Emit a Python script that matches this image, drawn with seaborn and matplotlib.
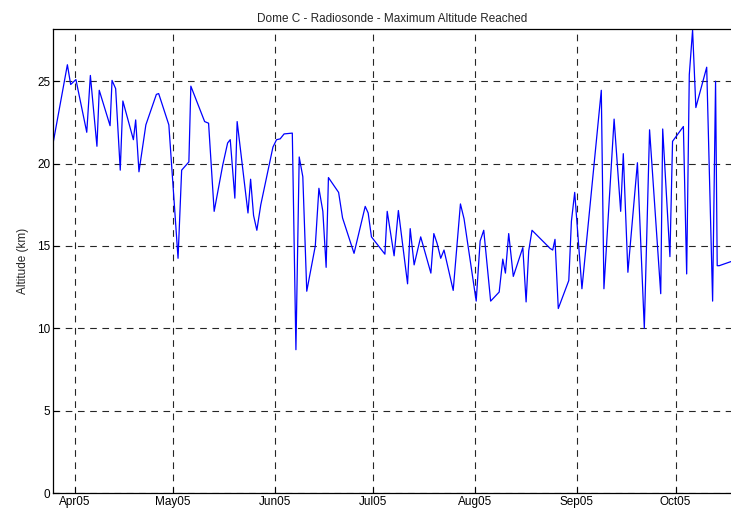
import pandas as pd
import matplotlib
matplotlib.use("Agg")
import matplotlib.pyplot as plt
import matplotlib.dates as mdates
import seaborn as sns

# Launch time in days since 1 Apr 2005
days = [-6.5, -2.2, -1.2, 0.4, 3.7, 4.8, 6.8, 7.5, 10.8, 11.4, 12.5, 13.9, 14.7,
        17.9, 18.6, 19.6, 21.7, 24.9, 25.6, 28.7, 31.5, 32.6, 34.8, 35.4, 39.6,
        40.8, 42.5, 45.1, 46.6, 47.4, 48.8, 49.5, 52.8, 53.6, 54.5, 55.5, 56.7,
        60.4, 61.5, 62.6, 63.8, 66.3, 67.4, 68.4, 69.5, 70.7, 73.3, 74.4, 75.6,
        76.6, 77.3, 80.4, 81.6, 85.1, 88.5, 89.4, 90.4, 94.5, 95.2, 97.3, 98.6,
        101.4, 102.2, 103.4, 105.4, 108.5, 109.4, 110.4, 111.5, 112.5, 115.3,
        117.5, 118.6, 122.3, 123.5, 124.6, 126.7, 129.3, 130.4, 131.2, 132.2,
        133.6, 136.5, 137.5, 138.3, 139.3, 144.8, 145.6, 146.3, 147.3, 150.5,
        151.3, 152.3, 154.5, 160.4, 161.2, 164.3, 166.3, 167.1, 168.5, 171.4,
        173.5, 175.1, 178.5, 179.1, 181.3, 182.1, 185.4, 186.4, 187.2, 188.2,
        189.2, 192.5, 194.3, 195.2, 195.7, 196.3, 199.9]

# Maximum altitude reached (km)
altitude = [21.3, 26.0, 24.8, 25.1, 21.9, 25.35, 21.05, 24.45, 22.3, 25.05, 24.55,
            19.6, 23.8, 21.45, 22.65, 19.5, 22.35, 24.2, 24.25, 22.35, 14.25, 19.6,
            20.1, 24.7, 22.55, 22.45, 17.1, 19.9, 21.25, 21.45, 17.9, 22.55, 17.0,
            19.05, 16.85, 15.95, 17.5, 21.0, 21.45, 21.5, 21.8, 21.85, 8.7, 20.4,
            19.2, 12.25, 15.0, 18.5, 17.1, 13.7, 19.15, 18.25, 16.7, 14.55, 17.4,
            17.0, 15.55, 14.5, 17.1, 14.4, 17.15, 12.7, 16.05, 13.85, 15.55, 13.35,
            15.75, 15.15, 14.25, 14.75, 12.3, 17.55, 16.65, 11.65, 15.3, 15.95,
            11.65, 12.2, 14.2, 13.35, 15.75, 13.15, 14.9, 11.6, 14.7, 15.95, 14.85,
            14.75, 15.4, 11.2, 12.9, 16.5, 18.25, 12.4, 24.45, 12.4, 22.7, 17.1,
            20.6, 13.4, 20.05, 10.0, 22.05, 12.1, 22.1, 14.35, 21.35, 22.25, 13.3,
            25.4, 28.1, 23.4, 25.85, 11.65, 25.0, 13.8, 13.8, 14.05]

month_ticks = ["2005-04-01", "2005-05-01", "2005-06-01", "2005-07-01",
               "2005-08-01", "2005-09-01", "2005-10-01"]
y_ticks = [0, 5, 10, 15, 20, 25]

base = pd.Timestamp("2005-04-01")
df = pd.DataFrame({
    "date": base + pd.to_timedelta(days, unit="D"),
    "altitude": altitude,
})

sns.set_theme(style="white")
plt.rcParams["font.family"] = ["Liberation Sans", "DejaVu Sans"]

fig = plt.figure(figsize=(7.31, 5.09), dpi=100)
ax = fig.add_axes([53 / 731, 16 / 509, 678 / 731, 464 / 509])

sns.lineplot(data=df, x="date", y="altitude", color="#0000ff", linewidth=0.9,
             ax=ax, sort=False, estimator=None)

ax.set_xlim(base + pd.Timedelta(days=-6.58), base + pd.Timedelta(days=199.9))
ax.set_ylim(0, 28.17)
ax.set_xticks(pd.to_datetime(month_ticks))
ax.xaxis.set_major_formatter(mdates.DateFormatter("%b%y"))
ax.set_yticks(y_ticks)

ax.grid(True, color="black", linestyle=(0, (6, 5)), linewidth=0.8, alpha=0.85)
ax.tick_params(direction="in", length=4, width=0.8, labelsize=8.5,
               colors="black", pad=2, bottom=True, left=True)
for side in ["left", "top", "bottom"]:
    ax.spines[side].set_color("black")
    ax.spines[side].set_linewidth(0.9)
ax.spines["right"].set_visible(False)

ax.set_xlabel("")
ax.set_ylabel("Altitude (km)", fontsize=8.5, labelpad=6)
ax.set_title("Dome C - Radiosonde - Maximum Altitude Reached", fontsize=8.5, pad=5)

fig.savefig("out.png", dpi=100)
